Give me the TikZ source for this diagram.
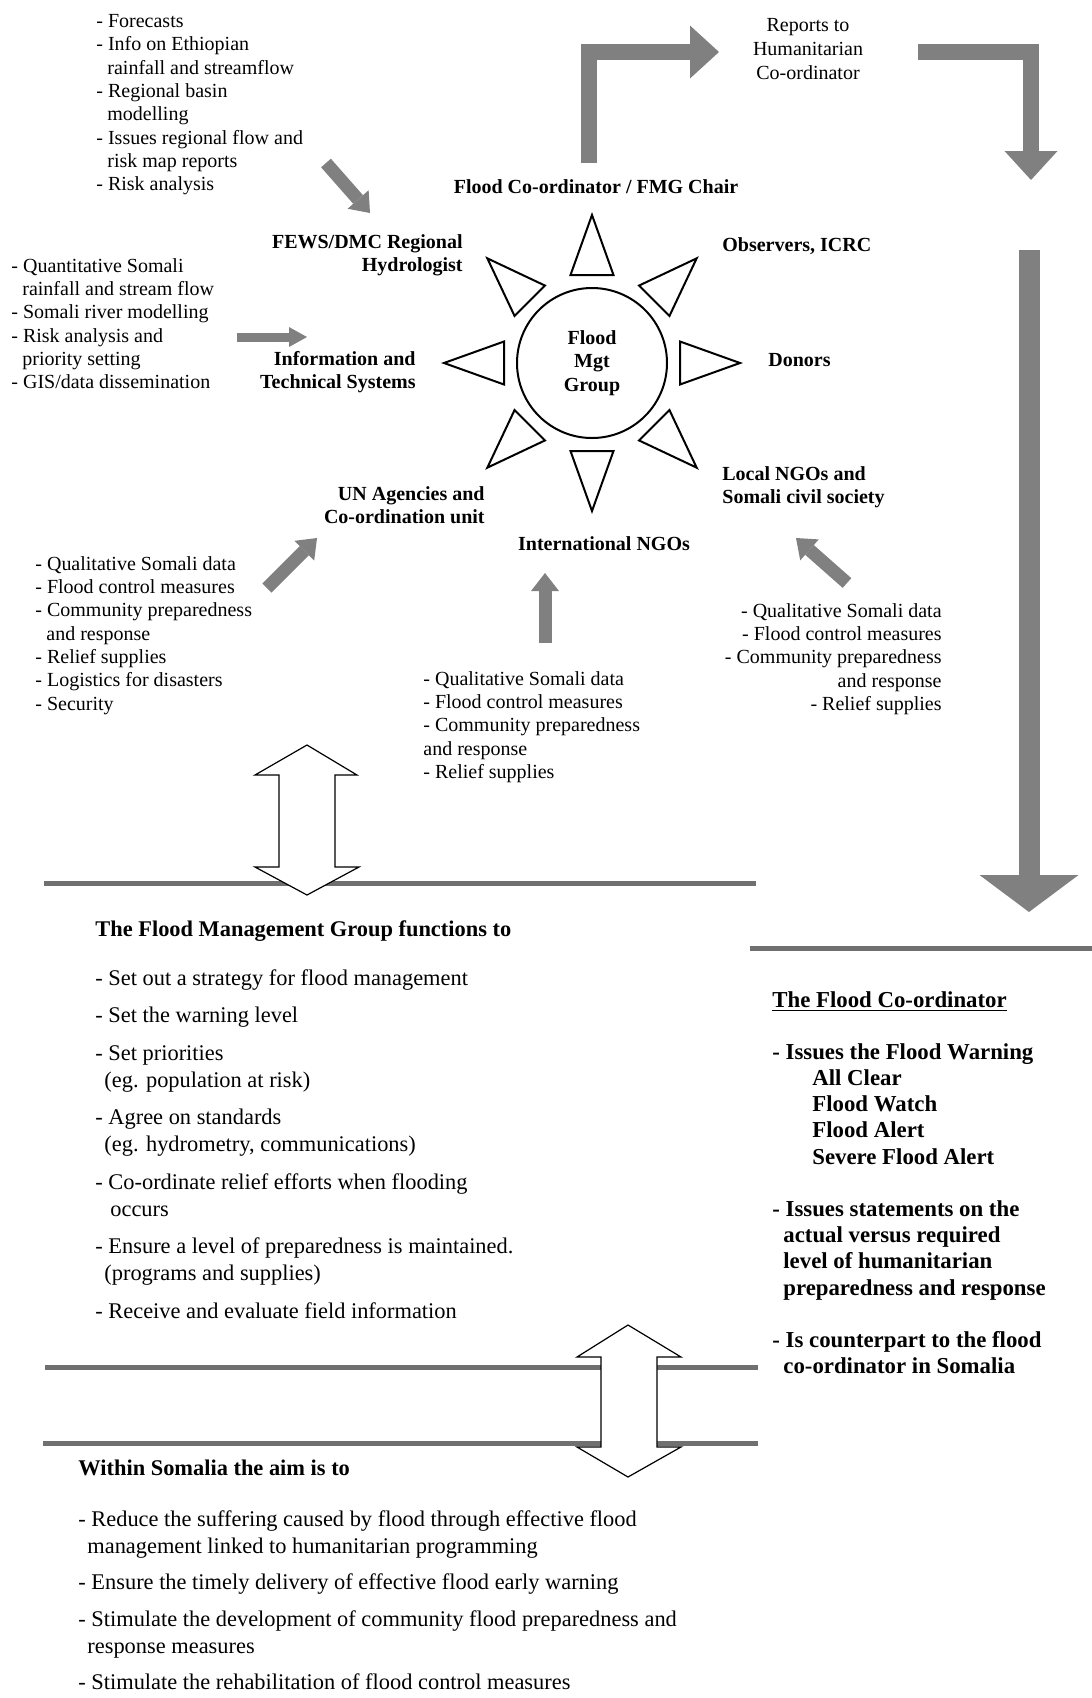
\documentclass[tikz,border=0pt]{standalone}
\usepackage{fontspec}
\setmainfont{Liberation Serif}
\usetikzlibrary{arrows.meta}
\definecolor{arrgray}{RGB}{128,128,128}
\definecolor{rulegray}{RGB}{112,112,112}
\newcommand{\fsz}[2]{\fontsize{#1}{#2}\selectfont}
\newcommand{\indgap}{\hspace*{5.5pt}}

\begin{document}
\begin{tikzpicture}[x=0.5pt,y=-0.5pt]
    \tikzstyle{notes}=[inner sep=0pt,align=left,font=\fsz{10}{11.65}]
    \tikzstyle{tag}=[inner sep=0pt,font=\bfseries\fsz{10}{11.5}]
    \tikzstyle{ray}=[draw,line width=1pt,fill=white]
    \tikzstyle{feed}=[draw,color=arrgray,line width=6.5pt,-{Triangle[length=9pt,width=14pt,line width=0pt]}]
    \tikzstyle{thinfeed}=[draw,color=arrgray,line width=4.5pt,-{Triangle[length=9pt,width=10pt,line width=0pt]}]
    \tikzstyle{bigarrow}=[draw,color=arrgray,line width=8pt,-{Triangle[length=14.5pt,width=26.5pt,line width=0pt]}]
    \tikzstyle{divider}=[draw,color=rulegray,line width=2.5pt]
    \tikzstyle{hollow}=[draw,line width=0.6pt,fill=white]

    \useasboundingbox (0,0) rectangle (1092,1698);

    \node[draw,circle,line width=1pt,minimum size=75pt,inner sep=0pt,align=center,font=\bfseries\fsz{10}{11.75}] (fmg) at (592,363) {Flood\\Mgt\\Group};
    \foreach \a in {0,45,...,315}
        \path[ray,shift={(fmg.center)},rotate=\a] (148,0) -- (88,21.5) -- (88,-21.5) -- cycle;

    \node[tag] (chair) at (596,187) {Flood Co-ordinator / FMG Chair};
    \node[tag,anchor=west] (obs) at (722,246) {Observers, ICRC};
    \node[tag,anchor=west] (donors) at (768,360) {Donors};
    \node[tag,anchor=north west,align=left] (local) at (722,466) {Local NGOs and\\Somali civil society};
    \node[tag] (intl) at (604,544) {International NGOs};
    \node[tag,anchor=north east,align=right] (un) at (485,486) {UN Agencies and\\Co-ordination unit};
    \node[tag,anchor=north east,align=right] (its) at (416,351) {Information and\\Technical Systems};
    \node[tag,anchor=north east,align=right] (fews) at (463,234) {FEWS/DMC Regional\\Hydrologist};

    \node[notes,anchor=north west] (regional) at (96,14) {- Forecasts\\- Info on Ethiopian\\\indgap rainfall and streamflow\\- Regional basin\\\indgap modelling\\- Issues regional flow and\\\indgap risk map reports\\- Risk analysis};
    \node[notes,anchor=north west] (somdata) at (11,258) {- Quantitative Somali\\\indgap rainfall and stream flow\\- Somali river modelling\\- Risk analysis and\\\indgap priority setting\\- GIS/data dissemination};
    \node[notes,anchor=north west] (unin) at (35,556) {- Qualitative Somali data\\- Flood control measures\\- Community preparedness\\\indgap and response\\- Relief supplies\\- Logistics for disasters\\- Security};
    \node[notes,anchor=north west] (intlin) at (423,671) {- Qualitative Somali data\\- Flood control measures\\- Community preparedness\\and response\\- Relief supplies};
    \node[notes,anchor=north east,align=right] (localin) at (942,603) {- Qualitative Somali data\\- Flood control measures\\- Community preparedness\\and response\\- Relief supplies};
    \node[notes,align=center,font=\fsz{10}{12}] (rep) at (808,49) {Reports to\\Humanitarian\\Co-ordinator};

    \coordinate (a1) at (326,163);
    \coordinate (b1) at (370,213);
    \coordinate (a2) at (237,337);
    \coordinate (b2) at (307,337);
    \coordinate (a3) at (267,588);
    \coordinate (b3) at (317,538);
    \coordinate (a4) at (545,643);
    \coordinate (b4) at (545,573);
    \coordinate (a5) at (847,583);
    \coordinate (b5) at (796,538);
    \path[feed] (a1) -- (b1);
    \path[thinfeed] (a2) -- (b2);
    \path[feed] (a3) -- (b3);
    \path[feed] (a4) -- (b4);
    \path[feed] (a5) -- (b5);

    \coordinate (up0) at (589,163);
    \coordinate (up1) at (719,52);
    \coordinate (dn0) at (918,52);
    \coordinate (dn1) at (1031,180);
    \coordinate (lg0) at (1029,250);
    \coordinate (lg1) at (1029,912);
    \path[bigarrow] (up0) |- (up1);
    \path[bigarrow] (dn0) -| (dn1);
    \path[draw,color=arrgray,line width=10.5pt,-{Triangle[length=18.5pt,width=49.5pt,line width=0pt]}] (lg0) -- (lg1);

    \path[divider] (44,883) -- (756,883);
    \path[divider] (750,948) -- (1092,948);
    \path[divider] (45,1367) -- (758,1367);
    \path[divider] (43,1443) -- (758,1443);

    \path[hollow] (307,745) -- (357,775) -- (335,775) -- (335,867) -- (359,867) -- (307,895) -- (255,867) -- (279,867) -- (279,775) -- (255,775) -- cycle;
    \path[hollow] (628,1325) -- (681,1357) -- (657,1357) -- (657,1447) -- (681,1447) -- (628,1477) -- (577,1447) -- (601,1447) -- (601,1357) -- (577,1357) -- cycle;

    \node[anchor=north west,inner sep=0pt,font=\bfseries\fsz{11.2}{13.5}] (fmghead) at (95,920) {The Flood Management Group functions to};
    \node[notes,anchor=north west,font=\fsz{11.2}{13.5}] (fmglist) at (95,969) {- Set out a strategy for flood management\\[5.25pt]- Set the warning level\\[5.25pt]- Set priorities\\\hspace*{4.5pt}(eg. population at risk)\\[5.25pt]- Agree on standards\\\hspace*{4.5pt}(eg. hydrometry, communications)\\[5.25pt]- Co-ordinate relief efforts when flooding\\\hspace*{7.5pt}occurs\\[5.25pt]- Ensure a level of preparedness is maintained.\\\hspace*{4.5pt}(programs and supplies)\\[5.25pt]- Receive and evaluate field information};

    \node[anchor=north west,inner sep=0pt,font=\bfseries\fsz{11.4}{13.1}] (fcohead) at (772,991) {\underline{The Flood Co-ordinator}};
    \node[notes,anchor=north west,font=\bfseries\fsz{11.4}{13.1}] (fcolist) at (772,1043) {- Issues the Flood Warning\\\hspace*{20pt}All Clear\\\hspace*{20pt}Flood Watch\\\hspace*{20pt}Flood Alert\\\hspace*{20pt}Severe Flood Alert\\[13.1pt]- Issues statements on the\\\hspace*{5.5pt}actual versus required\\\hspace*{5.5pt}level of humanitarian\\\hspace*{5.5pt}preparedness and response\\[13.1pt]- Is counterpart to the flood\\\hspace*{5.5pt}co-ordinator in Somalia};

    \node[anchor=north west,inner sep=0pt,font=\bfseries\fsz{11.2}{13.5}] (somhead) at (78,1460) {Within Somalia the aim is to};
    \node[notes,anchor=north west,font=\fsz{11.2}{13.5}] (somlist) at (78,1510) {- Reduce the suffering caused by flood through effective flood\\\hspace*{4.5pt}management linked to humanitarian programming\\[4.75pt]- Ensure the timely delivery of effective flood early warning\\[4.75pt]- Stimulate the development of community flood preparedness and\\\hspace*{4.5pt}response measures\\[4.75pt]- Stimulate the rehabilitation of flood control measures};
\end{tikzpicture}
\end{document}
